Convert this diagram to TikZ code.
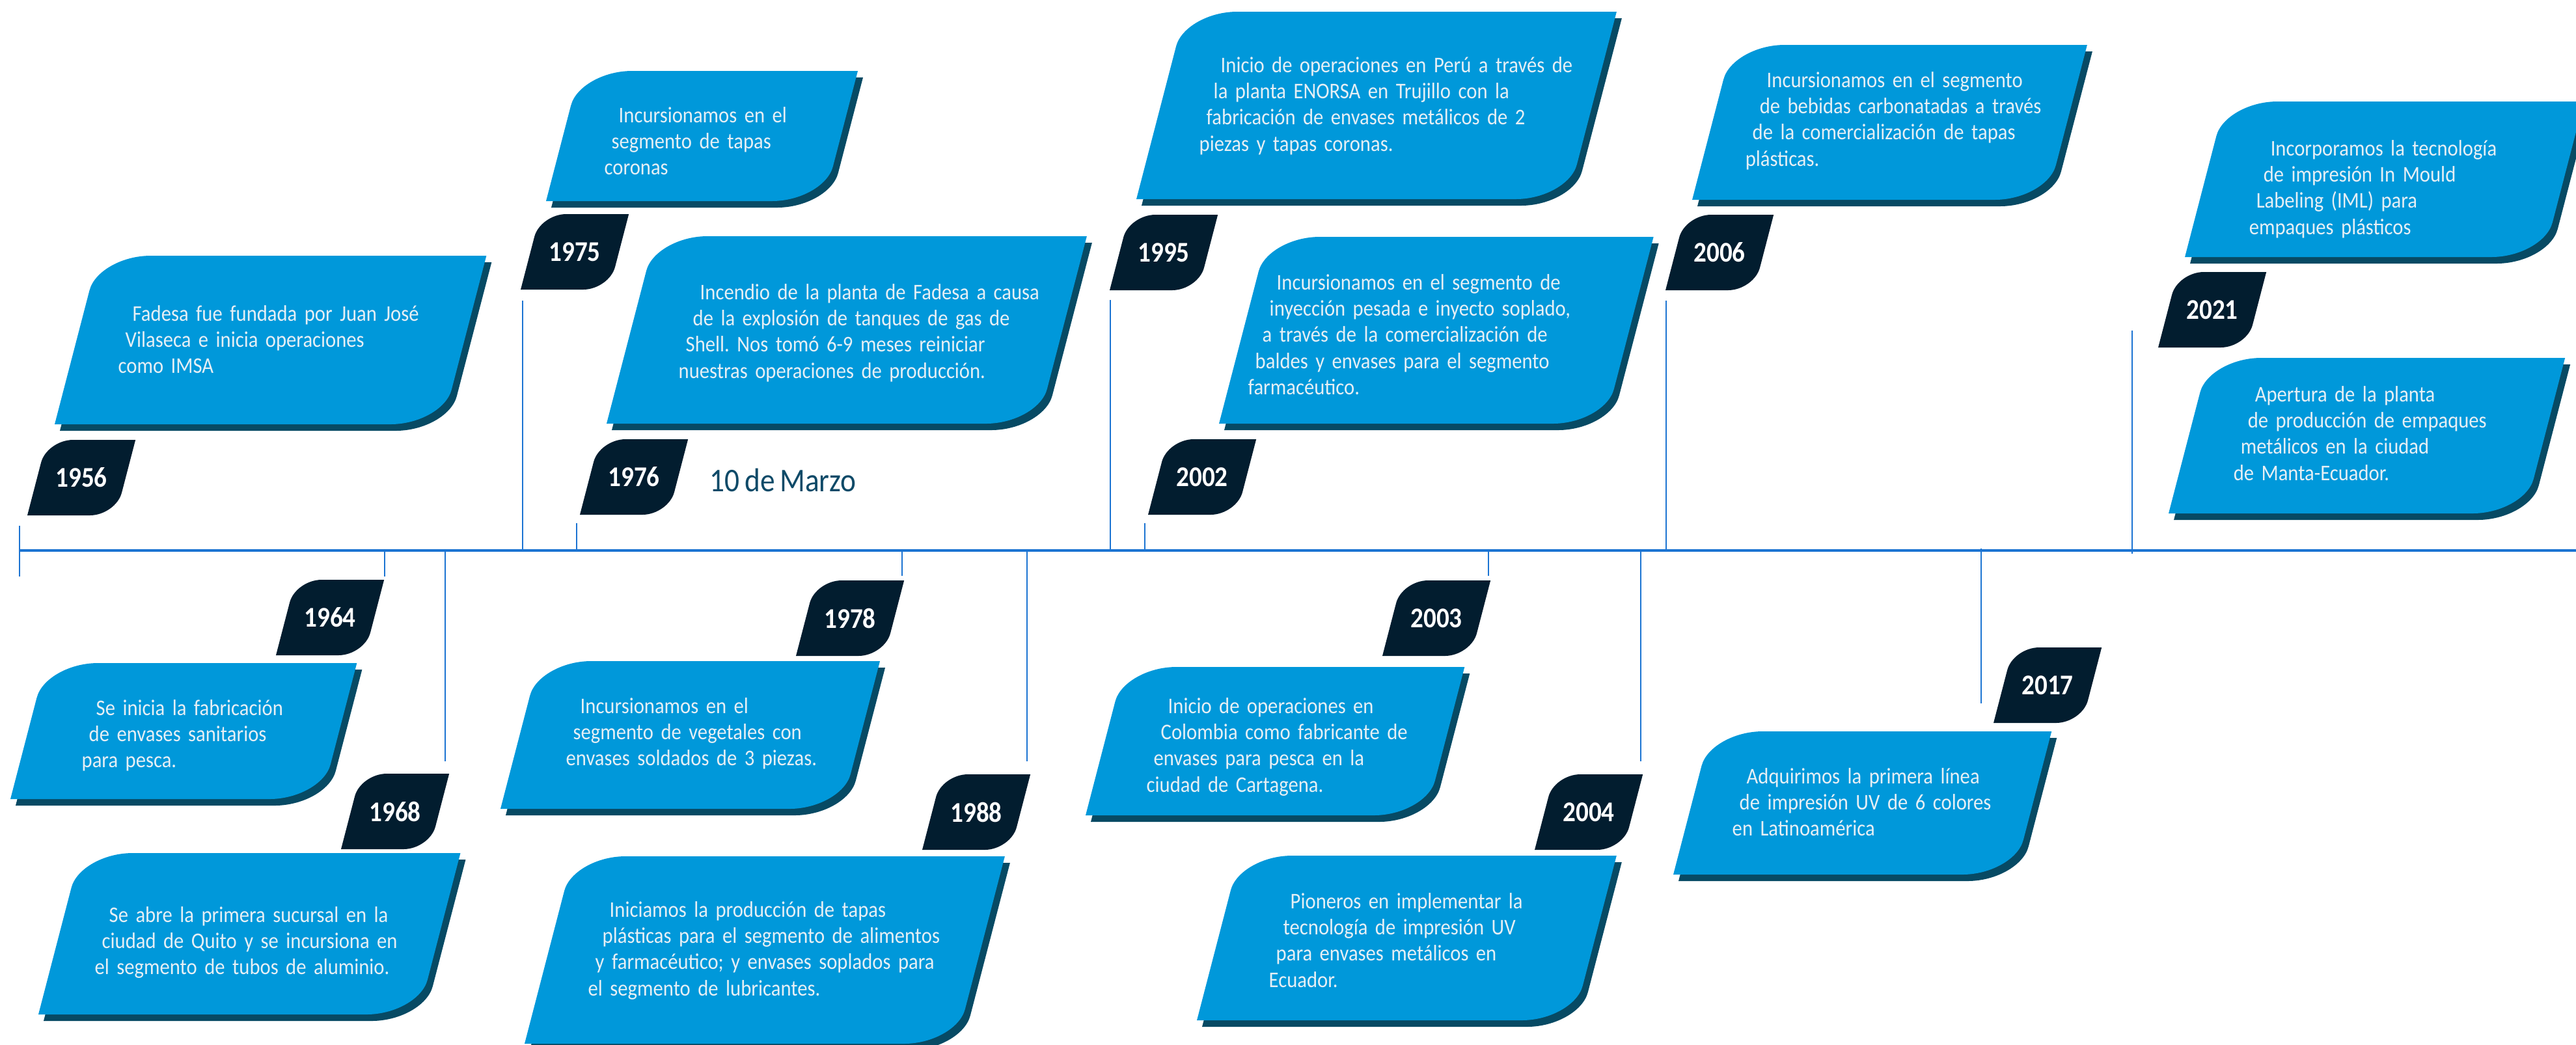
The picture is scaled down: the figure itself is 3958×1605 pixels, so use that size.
\documentclass[tikz,border=0pt]{standalone}
\usepackage{fontspec}
\setmainfont{Carlito}[FakeStretch=0.89, WordSpace=0.75]
\usetikzlibrary{calc}

\definecolor{boxblue}{HTML}{0098DA}
\definecolor{shadowblue}{HTML}{074A64}
\definecolor{tagnavy}{HTML}{021D2F}
\definecolor{lineblue}{HTML}{1C74D2}
\definecolor{paper}{HTML}{E6EFF5}
\definecolor{datecolor}{HTML}{0E4A68}

\tikzset{
  evtext/.style={text width=80mm, inner sep=0pt, anchor=base west, text=paper,
    font=\fontsize{9.8}{11.5}\selectfont},
  yeartext/.style={inner sep=0pt, text=white, font=\fontsize{12.5}{14}\selectfont\bfseries},
  datetext/.style={inner sep=0pt, anchor=base west, text=datecolor,
    font=\fontsize{14.5}{17}\selectfont},
  axisline/.style={draw=lineblue, line width=0.4mm},
  yeartick/.style={draw=lineblue, line width=0.25mm},
}

% slanted box, rounded at top left and bottom right
\newcommand\slantshape[7]{%
  \coordinate (sb-bl) at (#2,#3);
  \coordinate (sb-br) at (#2+#4,#3);
  \coordinate (sb-tl) at (#2+0.26*#5,#3-#5);
  \coordinate (sb-tr) at (#2+#4+0.26*#5,#3-#5);
  \coordinate (sb-a) at ($(sb-tl)!#6!(sb-bl)$);
  \coordinate (sb-b) at ($(sb-tl)!#7!(sb-tr)$);
  \coordinate (sb-c) at ($(sb-br)!#6!(sb-tr)$);
  \coordinate (sb-d) at ($(sb-br)!#7!(sb-bl)$);
  \fill[#1] (sb-bl) -- (sb-a)
    .. controls ($(sb-a)!0.55!(sb-tl)$) and ($(sb-b)!0.55!(sb-tl)$) .. (sb-b)
    -- (sb-tr) -- (sb-c)
    .. controls ($(sb-c)!0.55!(sb-br)$) and ($(sb-d)!0.55!(sb-br)$) .. (sb-d) -- cycle;
}

% lines of a box follow the slant
\newcommand\stairs{\frenchspacing\parshape 5 4.4mm 75mm 3.3mm 75mm 2.2mm 75mm 1.1mm 75mm 0mm 75mm\relax}

% event box with shadow: name, x, y, width, height, text x, text y, text
\newcommand\evbox[8]{%
  \slantshape{shadowblue}{#2+8}{#3+10}{#4}{#5}{5.5mm}{8mm}
  \slantshape{boxblue}{#2}{#3}{#4}{#5}{5.5mm}{8mm}
  \node[evtext] (#1) at (#6-44,#7) {\stairs #8\par};
}

% year tag: x, y, year
\newcommand\yeartag[3]{%
  \slantshape{tagnavy}{#1}{#2}{136}{116}{3.6mm}{4mm}
  \node[yeartext] (y#3) at (#1+83,#2-58) {#3};
}

\begin{document}
\begin{tikzpicture}[x=0.1mm, y=-0.1mm]
  \useasboundingbox (0,0) rectangle (3958,1605);
  % draw the time axis
  \draw[axisline] (30,846) -- (3958,846);
  % draw the ticks between axis and years
  \foreach \x/\a/\b in {30/808/886, 803/462/846, 886/804/846, 1706/461/846,
      1759/804/846, 2560/462/846, 3276/508/851, 591/846/886, 684/846/1170,
      1386/846/885, 1578/846/1170, 2287/846/885, 2521/846/1170, 3044/843/1081}
    \draw[yeartick] (\x,\a) -- (\x,\b);

  % events above the axis
  \evbox{e1956}{84}{652}{596}{259}{203}{493}{Fadesa fue fundada por Juan José\newline
    Vilaseca e inicia operaciones\newline como IMSA}
  \yeartag{42}{792}{1956}
  \evbox{e1975}{839}{309}{427}{200}{950}{188}{Incursionamos en el\newline
    segmento de tapas\newline coronas}
  \yeartag{800}{445}{1975}
  \evbox{e1976}{932}{651}{663}{288}{1075}{460}{Incendio de la planta de Fadesa a causa\newline
    de la explosión de tanques de gas de\newline Shell. Nos tomó 6-9 meses reiniciar\newline
    nuestras operaciones de producción.}
  \yeartag{891}{791}{1976}
  \node[datetext] (fecha) at (1090,755) {10 de Marzo};
  \evbox{e1995}{1746}{306}{663}{288}{1875}{111}{Inicio de operaciones en Perú a través de\newline
    la planta ENORSA en Trujillo con la\newline fabricación de envases metálicos de 2\newline
    piezas y tapas coronas.}
  \yeartag{1705}{446}{1995}
  \evbox{e2002}{1873}{651}{593}{287}{1961}{445}{Incursionamos en el segmento de\newline
    inyección pesada e inyecto soplado,\newline a través de la comercialización de\newline
    baldes y envases para el segmento\newline farmacéutico.}
  \yeartag{1764}{791}{2002}
  \evbox{e2006}{2600}{307}{545}{238}{2714}{134}{Incursionamos en el segmento\newline
    de bebidas carbonatadas a través\newline de la comercialización de tapas\newline plásticas.}
  \yeartag{2559}{446}{2006}
  \evbox{e2021a}{3357}{395}{551}{239}{3488}{239}{Incorporamos la tecnología\newline
    de impresión In Mould\newline Labeling (IML) para\newline empaques plásticos}
  \yeartag{3316}{534}{2021}
  \evbox{e2021b}{3332}{789}{547}{239}{3464}{617}{Apertura de la planta\newline
    de producción de empaques\newline metálicos en la ciudad\newline de Manta-Ecuador.}

  % events below the axis
  \yeartag{424}{1007}{1964}
  \evbox{e1964}{16}{1228}{478}{209}{147}{1099}{Se inicia la fabricación\newline
    de envases sanitarios\newline para pesca.}
  \yeartag{524}{1305}{1968}
  \evbox{e1968}{59}{1559}{584}{248}{167}{1417}{Se abre la primera sucursal en la\newline
    ciudad de Quito y se incursiona en\newline el segmento de tubos de aluminio.}
  \yeartag{1223}{1008}{1978}
  \evbox{e1978}{769}{1243}{524}{227}{891}{1096}{Incursionamos en el\newline
    segmento de vegetales con\newline envases soldados de 3 piezas.}
  \yeartag{1417}{1306}{1988}
  \evbox{e1988}{806}{1604}{663}{288}{936}{1409}{Iniciamos la producción de tapas\newline
    plásticas para el segmento de alimentos\newline y farmacéutico; y envases soplados para\newline
    el segmento de lubricantes.}
  \yeartag{2124}{1008}{2003}
  \evbox{e2003}{1668}{1253}{523}{228}{1794}{1096}{Inicio de operaciones en\newline
    Colombia como fabricante de\newline envases para pesca en la\newline ciudad de Cartagena.}
  \yeartag{2358}{1306}{2004}
  \evbox{e2004}{1839}{1568}{579}{253}{1982}{1396}{Pioneros en implementar la\newline
    tecnología de impresión UV\newline para envases metálicos en\newline Ecuador.}
  \yeartag{3063}{1111}{2017}
  \evbox{e2017}{2571}{1344}{524}{220}{2683}{1204}{Adquirimos la primera línea\newline
    de impresión UV de 6 colores\newline en Latinoamérica}
\end{tikzpicture}
\end{document}
